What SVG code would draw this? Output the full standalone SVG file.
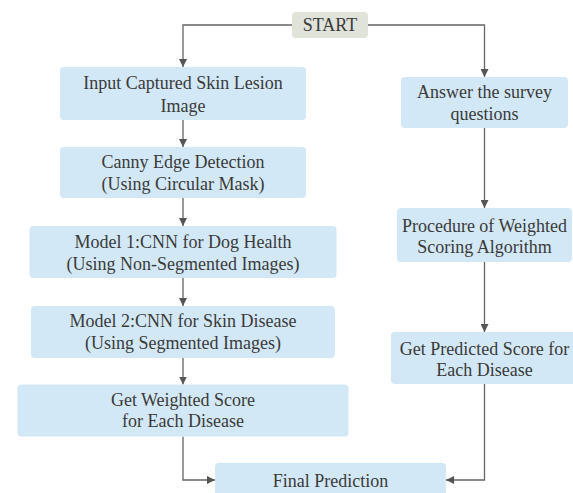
<svg xmlns="http://www.w3.org/2000/svg" width="573" height="493" viewBox="0 0 573 493">
<style>
.box{fill:#d3e8f6;}
.start{fill:#dfe3d9;}
.lbl{font-family:'Liberation Serif','Times New Roman','DejaVu Serif',serif;font-size:18px;fill:#3a3a3a;text-anchor:middle;}
.conn{fill:none;stroke:#666;stroke-width:1.3;}
</style>
<defs>
<marker id="ah" viewBox="0 0 10 10" refX="10" refY="5" markerWidth="8" markerHeight="8" markerUnits="userSpaceOnUse" orient="auto">
<path d="M0,0 L10,5 L0,10 z" fill="#555"/>
</marker>
</defs>
<rect width="573" height="493" fill="#fff"/>
<g id="connectors">
<path class="conn" d="M292,25 H183 V67" marker-end="url(#ah)"/>
<path class="conn" d="M368,25 H484.5 V77" marker-end="url(#ah)"/>
<path class="conn" d="M183,120 V147" marker-end="url(#ah)"/>
<path class="conn" d="M183,198 V226" marker-end="url(#ah)"/>
<path class="conn" d="M183,278 V306" marker-end="url(#ah)"/>
<path class="conn" d="M183,358 V384.5" marker-end="url(#ah)"/>
<path class="conn" d="M183,436.5 V480 H215" marker-end="url(#ah)"/>
<path class="conn" d="M484.5,128 V208" marker-end="url(#ah)"/>
<path class="conn" d="M484.5,262 V332" marker-end="url(#ah)"/>
<path class="conn" d="M484.5,384 V480 H446" marker-end="url(#ah)"/>
</g>
<g class="lbl">
<g id="start">
<rect class="start" x="292" y="12" width="76" height="26" rx="4"/>
<text x="330" y="31">START</text>
</g>
<g id="input">
<rect class="box" x="60" y="67" width="246" height="53" rx="4"/>
<text x="183" y="89">Input Captured Skin Lesion</text>
<text x="183" y="111.5">Image</text>
</g>
<g id="canny">
<rect class="box" x="60" y="147" width="246" height="51" rx="4"/>
<text x="183" y="168">Canny Edge Detection</text>
<text x="183" y="190">(Using Circular Mask)</text>
</g>
<g id="model1">
<rect class="box" x="29.5" y="226" width="307" height="52" rx="4"/>
<text x="183" y="248">Model 1:CNN for Dog Health</text>
<text x="183" y="270">(Using Non-Segmented Images)</text>
</g>
<g id="model2">
<rect class="box" x="31" y="306" width="304" height="52" rx="4"/>
<text x="183" y="327">Model 2:CNN for Skin Disease</text>
<text x="183" y="348.5">(Using Segmented Images)</text>
</g>
<g id="weighted">
<rect class="box" x="17.5" y="384.5" width="331" height="52" rx="4"/>
<text x="183" y="405.5">Get Weighted Score</text>
<text x="183" y="427">for Each Disease</text>
</g>
<g id="final">
<rect class="box" x="215" y="463" width="231" height="50" rx="4"/>
<text x="330.5" y="487">Final Prediction</text>
</g>
<g id="survey">
<rect class="box" x="401" y="77" width="167" height="51" rx="4"/>
<text x="484.5" y="98">Answer the survey</text>
<text x="484.5" y="120">questions</text>
</g>
<g id="procedure">
<rect class="box" x="397" y="208" width="175" height="54" rx="4"/>
<text x="484.5" y="231.5">Procedure of Weighted</text>
<text x="484.5" y="252.5">Scoring Algorithm</text>
</g>
<g id="predicted">
<rect class="box" x="391" y="332" width="186" height="52" rx="4"/>
<text x="484.5" y="355">Get Predicted Score for</text>
<text x="484.5" y="376">Each Disease</text>
</g>
</g>
</svg>
